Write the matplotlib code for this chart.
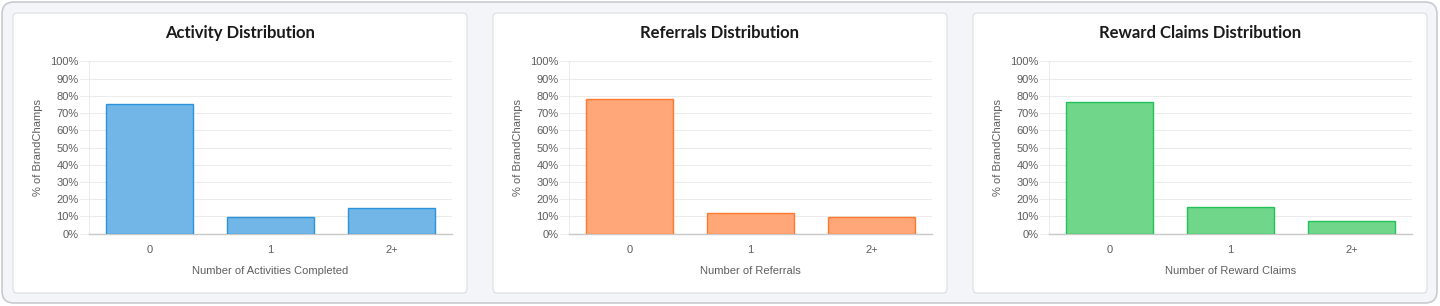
import matplotlib.pyplot as plt
from matplotlib.patches import FancyBboxPatch
from matplotlib.ticker import FuncFormatter

# data
categories = ["0", "1", "2+"]
activity = [75.3, 9.6, 14.7]
referrals = [78.2, 11.8, 9.4]
rewards = [76.5, 15.4, 7.1]

titles = ["Activity Distribution", "Referrals Distribution", "Reward Claims Distribution"]
xlabels = ["Number of Activities Completed", "Number of Referrals", "Number of Reward Claims"]
fills = ["#71b6e6", "#ffa778", "#6fd68a"]
edges = ["#2a93db", "#ff7a2e", "#22c25a"]
series = [activity, referrals, rewards]

W, H = 1440, 306
fig = plt.figure(figsize=(W / 100, H / 100), dpi=100)
fig.patch.set_facecolor("white")

# background layer in pixel units (y from the top)
bg = fig.add_axes([0, 0, 1, 1], zorder=-1)
bg.set_xlim(0, W)
bg.set_ylim(H, 0)
bg.axis("off")
bg.add_patch(FancyBboxPatch((2, 2), 1435, 301, boxstyle="round,pad=0,rounding_size=12",
                            facecolor="#f4f5f8", edgecolor="#c9cacf", linewidth=1.2))

tick_font = {"family": "Liberation Sans", "size": 8, "color": "#5e5e5e"}

for i in range(3):
    off = 480 * i
    # card
    bg.add_patch(FancyBboxPatch((13 + off, 13), 454, 280, boxstyle="round,pad=0,rounding_size=4",
                                facecolor="white", edgecolor="#dcdde1", linewidth=0.8))
    bg.text(240 + off, 33, titles[i], ha="center", va="center",
            family="Lato", weight="bold", size=12, color="#1a1a1a")

    ax = fig.add_axes([(89 + off) / W, 72.5 / H, 363 / W, 172 / H])
    ax.patch.set_alpha(0)
    x = range(len(categories))
    ax.bar(x, series[i], width=0.72, color=fills[i], edgecolor=edges[i], linewidth=1.0, zorder=3)
    ax.set_xlim(-0.5, 2.5)
    ax.set_ylim(0, 100)
    ax.set_yticks(range(0, 101, 10))
    ax.yaxis.set_major_formatter(FuncFormatter(lambda v, p: f"{int(v)}%"))
    ax.set_xticks(list(x))
    ax.set_xticklabels(categories)
    ax.grid(axis="y", color="#ebebeb", linewidth=0.75, zorder=0)
    ax.set_axisbelow(True)
    for s in ["top", "right"]:
        ax.spines[s].set_visible(False)
    ax.spines["left"].set_color("#ebebeb")
    ax.spines["left"].set_linewidth(0.75)
    ax.spines["bottom"].set_color("#c8c8c8")
    ax.spines["bottom"].set_linewidth(1.0)
    ax.tick_params(axis="y", length=6.5, width=0.75, color="#ebebeb", pad=1)
    ax.tick_params(axis="x", length=0, pad=8)
    for lab in ax.get_yticklabels() + ax.get_xticklabels():
        lab.set_fontfamily(tick_font["family"])
        lab.set_fontsize(tick_font["size"])
        lab.set_color(tick_font["color"])
    ax.set_ylabel("% of BrandChamps", fontdict=tick_font, labelpad=5)
    ax.set_xlabel(xlabels[i], fontdict=tick_font, labelpad=8)

fig.savefig("out.png", dpi=100)
